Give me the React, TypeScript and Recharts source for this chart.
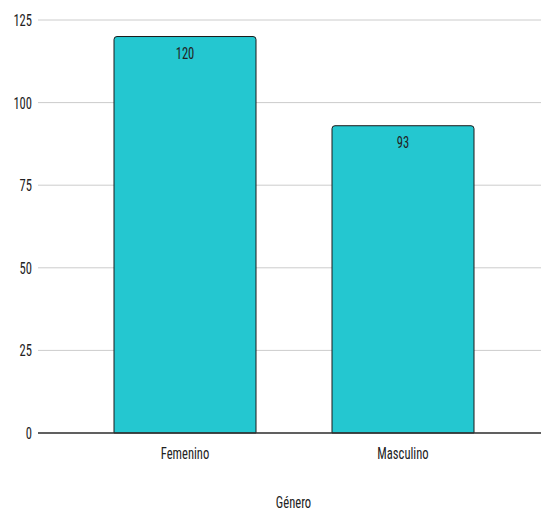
import React from "react";
import { BarChart, Bar, XAxis, YAxis, CartesianGrid, LabelList } from "recharts";

const categories = ["Femenino", "Masculino"];
const values = [120, 93];
const yTicks = [0, 25, 50, 75, 100, 125];
const axisTitle = "Género";

const data = categories.map((c, i) => ({ genero: c, value: values[i] }));

const FONT = "'Roboto Condensed', 'Roboto', sans-serif";
const FS = 17;
const SX = 0.74;
const TXT = "#222222";

const NarrowText = ({ x, y, anchor, children }: any) => (
  <text
    transform={`translate(${x},${y}) scale(${SX},1)`}
    textAnchor={anchor}
    fill={TXT}
    fontSize={FS}
    fontFamily={FONT}
  >
    {children}
  </text>
);

const YTick = (props: any) => {
  const { x, y, payload } = props;
  return <NarrowText x={x} y={y + 6} anchor="end">{payload.value}</NarrowText>;
};

const XTick = (props: any) => {
  const { x, y, payload } = props;
  return <NarrowText x={x} y={y + 24} anchor="middle">{payload.value}</NarrowText>;
};

const ValueLabel = (props: any) => {
  const { x, y, width, value } = props;
  return <NarrowText x={x + width / 2} y={y + 22} anchor="middle">{value}</NarrowText>;
};

const TitleLabel = (props: any) => {
  const { viewBox } = props;
  const { x, y, width, height } = viewBox;
  return <NarrowText x={x + width / 2 + 4} y={y + height - 5} anchor="middle">{axisTitle}</NarrowText>;
};

export default function App() {
  return (
    <div style={{ position: "absolute", left: 0, top: 0, width: 541, height: 513, background: "#fff" }}>
      <BarChart
        width={541}
        height={513}
        data={data}
        margin={{ top: 20, right: 0, bottom: 0, left: 0 }}
      >
        <CartesianGrid vertical={false} stroke="#cccccc" strokeWidth={1} />
        <XAxis
          dataKey="genero"
          height={80}
          padding={{ left: 38, right: 29 }}
          tickLine={false}
          tickSize={0}
          tickMargin={2}
          axisLine={{ stroke: "#333333", strokeWidth: 1.5 }}
          tick={<XTick />}
          label={<TitleLabel />}
        />
        <YAxis
          domain={[0, 125]}
          ticks={yTicks}
          width={38}
          axisLine={false}
          tickLine={false}
          tickSize={0}
          tickMargin={6}
          tick={<YTick />}
        />
        <Bar
          dataKey="value"
          fill="#24C7D0"
          stroke="#1a1a1a"
          strokeWidth={1}
          barSize={142}
          radius={[3, 3, 0, 0]}
          isAnimationActive={false}
        >
          <LabelList dataKey="value" content={<ValueLabel />} />
        </Bar>
      </BarChart>
    </div>
  );
}
